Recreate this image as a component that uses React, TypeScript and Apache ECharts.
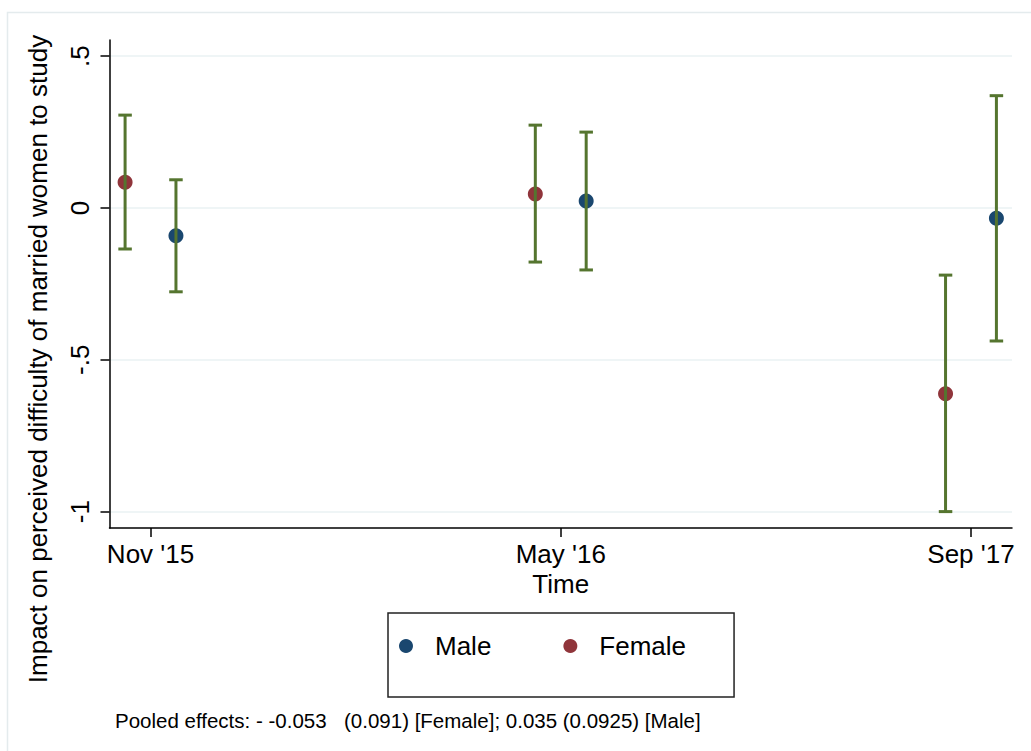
import React, { useEffect, useRef } from "react";
import * as echarts from "echarts";

// ---- data ----
const categories = ["Nov '15", "May '16", "Sep '17"];
const categoryPositions = [0, 1, 2];
const maleEst = [-0.091, 0.023, -0.034];
const maleLo = [-0.276, -0.204, -0.438];
const maleHi = [0.093, 0.25, 0.37];
const femaleEst = [0.085, 0.046, -0.612];
const femaleLo = [-0.135, -0.178, -1.0];
const femaleHi = [0.306, 0.273, -0.221];
const yTickValues = [-1, -0.5, 0, 0.5];
const yTickLabels = ["-1", "-.5", "0", ".5"];
const yTitle = "Impact on perceived difficulty of married women to study";
const xTitle = "Time";
const noteA = "Pooled effects: - -0.053";
const noteB = "(0.091) [Female]; 0.035 (0.0925) [Male]";

// ---- styling / layout constants ----
const MALE_OFFSET = 0.062;
const FEMALE_OFFSET = -0.062;
const NAVY = "#1a476f";
const MAROON = "#90353b";
const GREEN = "#55752f";
const GRID = "#eaf2f3";
const FONT = "'Liberation Sans', Arial, Helvetica, sans-serif";

export default function App() {
  const ref = useRef<HTMLDivElement>(null);

  useEffect(() => {
    if (!ref.current) return;
    const chart = echarts.init(ref.current, undefined, { renderer: "svg" });

    const maleX = categoryPositions.map((c) => c + MALE_OFFSET);
    const femaleX = categoryPositions.map((c) => c + FEMALE_OFFSET);
    const malePts = maleX.map((x, i) => [x, maleEst[i]]);
    const femalePts = femaleX.map((x, i) => [x, femaleEst[i]]);
    const ciData = [
      ...maleX.map((x, i) => [x, maleLo[i], maleHi[i]]),
      ...femaleX.map((x, i) => [x, femaleLo[i], femaleHi[i]]),
    ];

    const option: any = {
      animation: false,
      backgroundColor: "#ffffff",
      textStyle: { fontFamily: FONT },
      grid: { left: 109.5, top: 40, width: 902.5, height: 488, containLabel: false },
      xAxis: {
        type: "value",
        min: -0.1,
        max: 2.1,
        axisLine: { show: true, onZero: false, lineStyle: { color: "#000", width: 1.5 } },
        axisTick: {
          show: true,
          length: 9,
          customValues: categoryPositions,
          lineStyle: { color: "#000", width: 1.5 },
        },
        axisLabel: {
          customValues: categoryPositions,
          formatter: (v: number) => categories[Math.round(v)] ?? "",
          color: "#000",
          fontSize: 26,
          lineHeight: 22,
          fontFamily: FONT,
          margin: 15,
        },
        splitLine: { show: false },
        name: xTitle,
        nameLocation: "middle",
        nameGap: 45,
        nameMoveOverlap: false,
        nameTextStyle: { color: "#000", fontSize: 26, fontFamily: FONT, lineHeight: 22 },
      },
      yAxis: {
        type: "value",
        min: -1.054,
        max: 0.5534,
        axisLine: { show: true, onZero: false, lineStyle: { color: "#000", width: 1.5 } },
        axisTick: {
          show: true,
          length: 9,
          customValues: yTickValues,
          lineStyle: { color: "#000", width: 1.5 },
        },
        axisLabel: {
          customValues: yTickValues,
          formatter: (v: number) => {
            const i = yTickValues.findIndex((t) => Math.abs(t - v) < 1e-6);
            return i >= 0 ? yTickLabels[i] : "";
          },
          rotate: 90,
          color: "#000",
          fontSize: 26,
          fontFamily: FONT,
          margin: 17,
        },
        splitLine: { show: true, lineStyle: { color: GRID, width: 1.5 } },
      },
      legend: {
        data: ["Male", "Female"],
        left: 388,
        top: 613,
        orient: "horizontal",
        icon: "circle",
        itemWidth: 14,
        itemHeight: 14,
        itemGap: 72,
        padding: [20, 48, 38, 11],
        borderColor: "#222",
        borderWidth: 1.5,
        borderRadius: 0,
        textStyle: { color: "#000", fontSize: 26, fontFamily: FONT, padding: [0, 0, 0, 17] },
        selectedMode: false,
      },
      series: [
        {
          name: "Male",
          type: "scatter",
          data: malePts,
          symbol: "circle",
          symbolSize: 15,
          itemStyle: { color: NAVY, opacity: 1 },
          z: 2,
        },
        {
          name: "Female",
          type: "scatter",
          data: femalePts,
          symbol: "circle",
          symbolSize: 15,
          itemStyle: { color: MAROON, opacity: 1 },
          z: 2,
        },
        {
          name: "CI",
          type: "custom",
          data: ciData,
          encode: { x: 0, y: [1, 2] },
          z: 3,
          renderItem: (params: any, api: any) => {
            const x = api.value(0);
            const top = api.coord([x, api.value(2)]);
            const bot = api.coord([x, api.value(1)]);
            const hw = 6.75;
            const st = { stroke: GREEN, lineWidth: 3 };
            return {
              type: "group",
              children: [
                { type: "line", shape: { x1: top[0], y1: top[1], x2: bot[0], y2: bot[1] }, style: st },
                { type: "line", shape: { x1: top[0] - hw, y1: top[1], x2: top[0] + hw, y2: top[1] }, style: st },
                { type: "line", shape: { x1: bot[0] - hw, y1: bot[1], x2: bot[0] + hw, y2: bot[1] }, style: st },
              ],
            };
          },
        },
      ],
      graphic: [
        {
          type: "rect",
          silent: true,
          shape: { x: 7.5, y: 12.5, width: 1200, height: 900 },
          style: { fill: "none", stroke: "#e4ebed", lineWidth: 1.5 },
          z: -10,
        },
        {
          type: "text",
          x: 38,
          y: 359,
          rotation: Math.PI / 2,
          style: {
            text: yTitle,
            fill: "#000",
            fontSize: 26,
            fontFamily: FONT,
            textAlign: "center",
            textVerticalAlign: "middle",
          },
        },
        {
          type: "text",
          x: 115,
          y: 720,
          style: {
            text: noteA,
            fill: "#000",
            fontSize: 20.5,
            fontFamily: FONT,
            textAlign: "left",
            textVerticalAlign: "middle",
          },
        },
        {
          type: "text",
          x: 344,
          y: 720,
          style: {
            text: noteB,
            fill: "#000",
            fontSize: 20.5,
            fontFamily: FONT,
            textAlign: "left",
            textVerticalAlign: "middle",
          },
        },
      ],
    };

    chart.setOption(option);
    return () => chart.dispose();
  }, []);

  return (
    <div
      ref={ref}
      style={{ position: "fixed", left: 0, top: 0, width: 1031, height: 751, background: "#fff" }}
    />
  );
}
